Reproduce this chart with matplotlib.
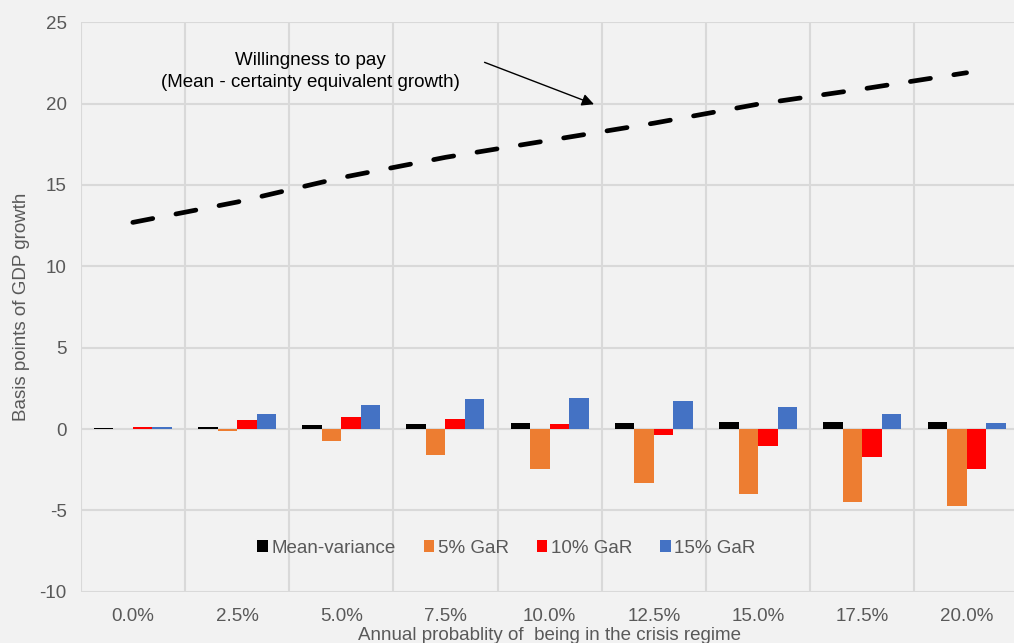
import matplotlib.pyplot as plt
import numpy as np

plt.rcParams['font.family'] = ['Liberation Sans', 'DejaVu Sans']
plt.rcParams['axes.unicode_minus'] = False

# Daten
categories = ['0.0%', '2.5%', '5.0%', '7.5%', '10.0%', '12.5%', '15.0%', '17.5%', '20.0%']
mean_variance = [0.08, 0.14, 0.22, 0.33, 0.35, 0.39, 0.43, 0.45, 0.45]
gar_5 = [0.0, -0.14, -0.74, -1.57, -2.47, -3.33, -3.97, -4.48, -4.74]
gar_10 = [0.1, 0.57, 0.72, 0.63, 0.29, -0.35, -1.04, -1.74, -2.45]
gar_15 = [0.1, 0.94, 1.49, 1.84, 1.90, 1.74, 1.37, 0.92, 0.35]
willingness = [12.7, 13.95, 15.45, 16.7, 17.75, 18.8, 19.97, 20.9, 21.9]

series = [
    ('Mean-variance', mean_variance, '#000000'),
    ('5% GaR', gar_5, '#ED7D31'),
    ('10% GaR', gar_10, '#FF0000'),
    ('15% GaR', gar_15, '#4472C4'),
]

bg = '#F2F2F2'
grey = '#595959'
fs = 13.5
fig = plt.figure(figsize=(10.14, 6.43), dpi=100, facecolor=bg)
ax = fig.add_axes([80.7 / 1014, 51.3 / 643, 938.0 / 1014, 569.4 / 643])
ax.set_facecolor(bg)

x = np.arange(len(categories))
w = 0.187
for k, (name, vals, col) in enumerate(series):
    ax.bar(x + (k - 1.5) * w, vals, width=w, color=col, label=name, zorder=3)

ax.plot(x, willingness, color='black', lw=3.4, dashes=(4.3, 5.0),
        dash_capstyle='round', zorder=4)

ax.annotate('', xy=(4.45, 19.9), xytext=(3.35, 22.6),
            arrowprops=dict(arrowstyle='-|>', color='black', lw=1,
                            mutation_scale=18), zorder=5)
ax.text(1.70, 22.0, 'Willingness to pay\n(Mean - certainty equivalent growth)',
        ha='center', va='center', fontsize=fs, color='black',
        linespacing=1.38, zorder=5)

ax.set_xlim(-0.5, 8.5)
ax.set_ylim(-10, 25)
ax.set_yticks(np.arange(-10, 26, 5))
ax.set_xticks(x)
ax.set_xticklabels(categories)
ax.set_xticks(np.arange(-0.5, 9.0, 1.0), minor=True)
ax.tick_params(axis='both', which='both', length=0, colors=grey, labelsize=fs)
ax.tick_params(axis='x', pad=12)
ax.tick_params(axis='y', pad=10)

ax.grid(True, axis='y', which='major', color='#D9D9D9', lw=1.5, zorder=0)
ax.grid(True, axis='x', which='minor', color='#D9D9D9', lw=1.5, zorder=0)
ax.grid(False, axis='x', which='major')
for s in ax.spines.values():
    s.set_visible(False)

ax.set_xlabel('Annual probablity of  being in the crisis regime', fontsize=fs,
              color=grey, labelpad=1)
ax.set_ylabel('Basis points of GDP growth', fontsize=fs, color=grey, labelpad=7)

ax.legend(loc='center', bbox_to_anchor=(0.454, 0.0767), ncol=4, frameon=False,
          fontsize=fs, handlelength=0.55, handleheight=0.55, handletextpad=0.2,
          columnspacing=1.5, labelcolor=grey)

plt.savefig('out.png', dpi=100, facecolor=bg)
plt.close()
